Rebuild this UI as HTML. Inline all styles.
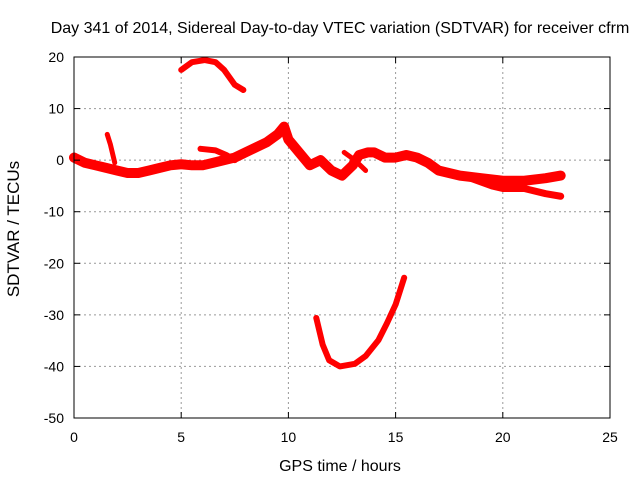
<!DOCTYPE html>
<html><head><meta charset="utf-8"><style>
body{margin:0;background:#fff}
svg{display:block;font-family:"Liberation Sans",sans-serif;font-size:14px}
</style></head><body>
<svg id="c" width="640" height="480">
<text x="340" y="33" text-anchor="middle" font-size="16">Day 341 of 2014, Sidereal Day-to-day VTEC variation (SDTVAR) for receiver cfrm</text>
<text x="340" y="471" text-anchor="middle" font-size="16">GPS time / hours</text>
<text transform="translate(19,229) rotate(-90)" text-anchor="middle" font-size="17">SDTVAR / TECUs</text>
<g id="grid"></g><g id="series"></g><g id="axes"></g>
</svg>
<script>
const xTicks=[0,5,10,15,20,25];
const yTicks=[20,10,0,-10,-20,-30,-40,-50];
const arcH=[5.0,5.5,6.1,6.6,7.0,7.5,7.9];
const arcV=[17.5,19,19.4,19,17.5,14.6,13.6];
const mainH=[0,0.5,1,1.5,2,2.5,3,3.5,4,4.5,5,5.5,6,6.5,7,7.5,8,8.5,9,9.5,9.8,10,10.5,11,11.5,12,12.5,13,13.3,13.7,14,14.5,15,15.5,16,16.5,17,18,19,20,20.5,21,22,22.7];
const mainV=[0.5,-0.5,-1,-1.5,-2,-2.5,-2.5,-2,-1.5,-1,-0.8,-1,-1,-0.5,0,0.5,1.5,2.5,3.5,5,6.5,4,1.5,-1,0,-2,-3,-1,1,1.5,1.5,0.5,0.5,1,0.5,-0.5,-2,-3,-3.5,-4,-4,-4,-3.5,-3];
const lowH=[17.5,18.5,19.5,20,21,22,22.7];
const lowV=[-2.5,-3.5,-5,-5.5,-5.5,-6.5,-7];
const spikeH=[1.55,1.7,1.9];
const spikeV=[5,3,-0.5];
const branch1H=[12.6,13.1,13.6];
const branch1V=[1.5,0,-2];
const branch2H=[5.9,6.6,7.1,7.5];
const branch2V=[2.2,1.9,1,0];
const uH=[11.3,11.6,11.9,12.4,13.1,13.6,14.2,14.6,15,15.4];
const uV=[-30.6,-35.8,-38.8,-40,-39.5,-38,-34.9,-31.6,-28,-22.8];
const X0=74,X1=610,Y0=57,Y1=418;
const sx=h=>X0+h/25*(X1-X0);
const sy=v=>Y0+(20-v)/70*(Y1-Y0);
const NS="http://www.w3.org/2000/svg";
function mk(t,p,parent){const e=document.createElementNS(NS,t);for(const k in p)e.setAttribute(k,p[k]);parent.appendChild(e);return e;}
const grid=document.getElementById('grid'),axes=document.getElementById('axes'),ser=document.getElementById('series');
xTicks.forEach(t=>{
 if(t>0&&t<25){const l=mk('line',{x1:sx(t),x2:sx(t),y1:Y0,y2:Y1,stroke:'#999','stroke-dasharray':'2,3'},grid);
 
 }
 const tx=mk('text',{x:sx(t),y:Y1+24,'text-anchor':'middle'},axes);tx.textContent=t;
 
 
 mk('line',{x1:sx(t),x2:sx(t),y1:Y1,y2:Y1-6,stroke:'#000'},axes);
 mk('line',{x1:sx(t),x2:sx(t),y1:Y0,y2:Y0+6,stroke:'#000'},axes);
});
yTicks.forEach(t=>{
 if(t<20&&t>-50){const l=mk('line',{x1:X0,x2:X1,y1:sy(t),y2:sy(t),stroke:'#999','stroke-dasharray':'2,3'},grid);
 
 }
 const tx=mk('text',{x:X0-10,y:sy(t)+5,'text-anchor':'end'},axes);tx.textContent=t;
 
 
 mk('line',{x1:X0,x2:X0+6,y1:sy(t),y2:sy(t),stroke:'#000'},axes);
 mk('line',{x1:X1,x2:X1-6,y1:sy(t),y2:sy(t),stroke:'#000'},axes);
});
const fr=mk('rect',{x:X0,y:Y0,width:X1-X0,height:Y1-Y0,fill:'none',stroke:'#000'},axes);


function series(H,V,w,name){
 const pts=H.map((h,i)=>sx(h)+','+sy(V[i])).join(' ');
 const p=mk('polyline',{points:pts,fill:'none',stroke:'#f00','stroke-width':w,'stroke-linejoin':'round','stroke-linecap':'round'},ser);
 
 
}
series(arcH,arcV,6,'series-arc-top');
series(mainH,mainV,10,'series-main-band');
series(lowH,lowV,7,'series-low-band');
series(spikeH,spikeV,5,'series-spike');
series(branch1H,branch1V,5,'series-branch-1');
series(branch2H,branch2V,6,'series-branch-2');
series(uH,uV,6,'series-u-curve');
</script>
</body></html>
